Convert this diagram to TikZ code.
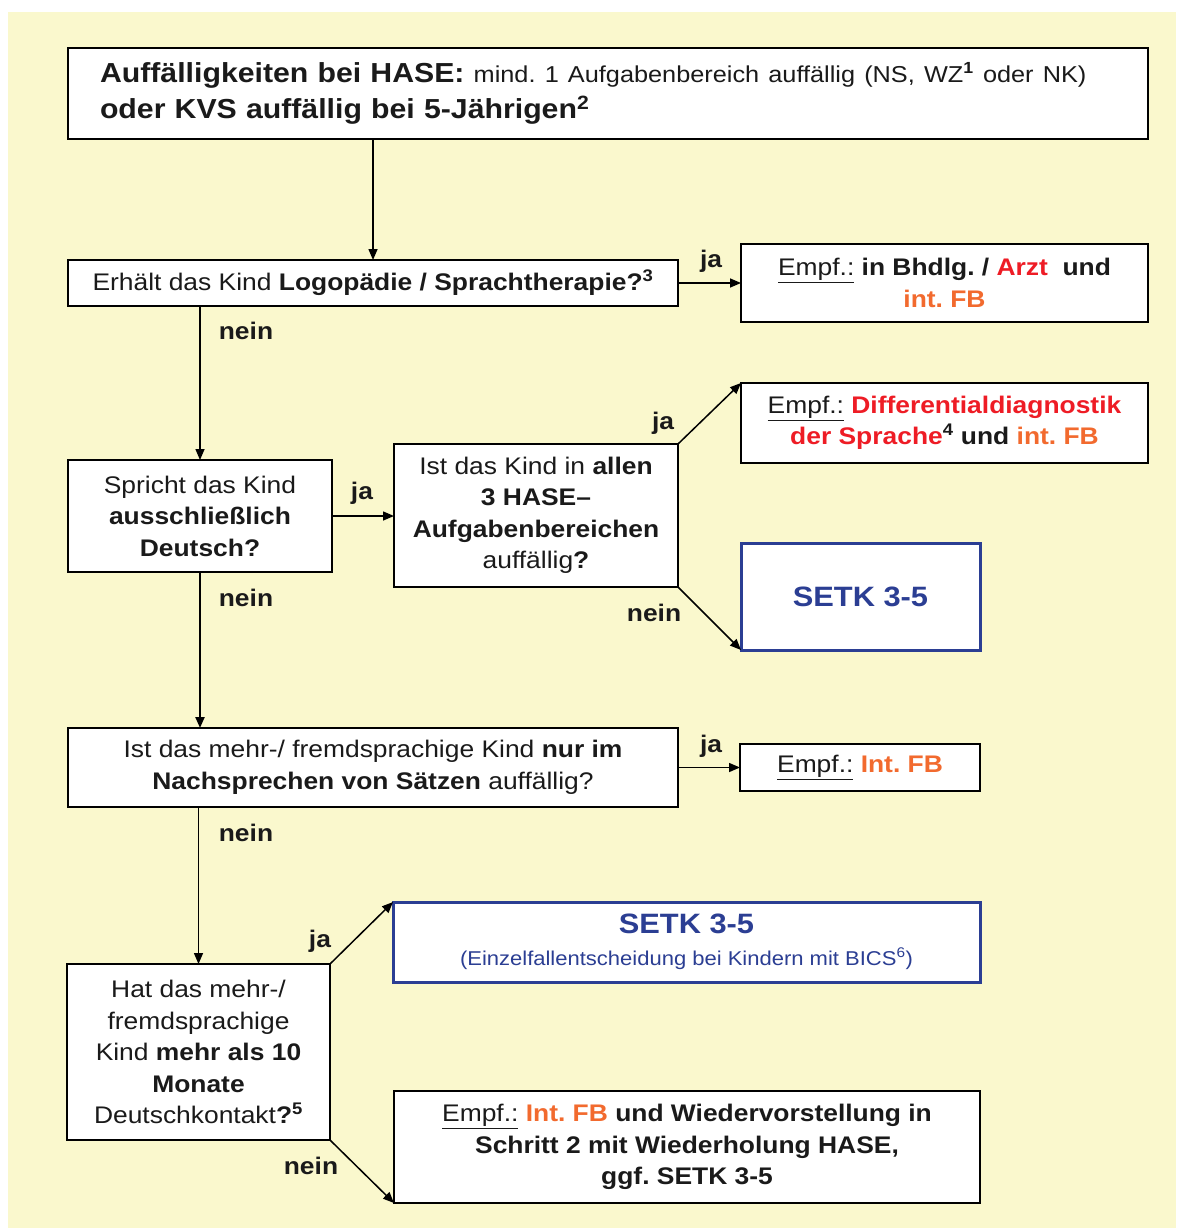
\documentclass[tikz,border=0pt]{standalone}
\usepackage{fontspec}
\setmainfont{Liberation Sans}[FakeStretch=1.1]
\usetikzlibrary{arrows.meta}
\frenchspacing
\definecolor{bg}{HTML}{FAF8CD}
\definecolor{tred}{HTML}{EE1C25}
\definecolor{torange}{HTML}{F26A2E}
\definecolor{tblue}{HTML}{2B3E93}
\definecolor{tdark}{HTML}{1A1A1A}
\newcommand\bx[7]{\node[#1, minimum width={#5-#3}, minimum height={#6-#4}] (#2) at ({(#3+#5)/2},{(#4+#6)/2}) {#7};}
\newcommand\emp{\underline{Empf.:}}
\begin{document}
\frenchspacing
\begin{tikzpicture}[x=1pt,y=-1pt,
  box/.style={draw=black, line width=1.5pt, fill=white, inner sep=0pt, outer sep=0pt, align=center, text=tdark, font=\fontsize{24}{31.5}\selectfont\frenchspacing},
  bluebox/.style={box, draw=tblue, line width=3pt, text=tblue},
  arr/.style={line width=1.5pt, -{Triangle[length=11pt,width=9pt]}},
  lbl/.style={font=\fontsize{24}{28}\selectfont\bfseries, text=tdark, inner sep=0pt}
]
\useasboundingbox (0,0) rectangle (1176,1228);
\fill[white] (0,0) rectangle (1176,1228);
\fill[bg] (8,12) rectangle (1176,1228);

\bx{box, align=left, text width=1016pt, inner xsep=32pt, font=\fontsize{27.5}{36}\selectfont\frenchspacing}{b1}{68}{48}{1148}{139}{\textbf{Auffälligkeiten bei HASE:} {\fontsize{23}{36}\selectfont mind. 1 Aufgabenbereich auffällig (NS, WZ\textsuperscript{\bfseries 1} oder NK)}\\ \textbf{oder KVS auffällig bei 5-Jährigen\textsuperscript{2}}}
\bx{box}{b2}{68}{260}{678}{306}{Erhält das Kind \textbf{Logopädie / Sprachtherapie?\textsuperscript{3}}}
\bx{box}{b3}{741}{244}{1148}{322}{\emp{} \textbf{in Bhdlg. / \textcolor{tred}{Arzt}\ \ und}\\ \textbf{\textcolor{torange}{int. FB}}}
\bx{box}{b4}{68}{460}{332}{572}{Spricht das Kind\\ \textbf{ausschließlich}\\ \textbf{Deutsch?}}
\bx{box}{b5}{394}{444}{678}{587}{Ist das Kind in \textbf{allen}\\ \textbf{3 HASE–}\\ \textbf{Aufgabenbereichen}\\ auffällig\textbf{?}}
\bx{box}{b6}{741}{383}{1148}{463}{\emp{} \textbf{\textcolor{tred}{Differentialdiagnostik}}\\ \textbf{\textcolor{tred}{der Sprache}\textsuperscript{4} und \textcolor{torange}{int. FB}}}
\bx{bluebox}{b7}{741}{543}{980}{650}{\fontsize{28}{34}\selectfont\bfseries SETK 3-5}
\bx{box}{b8}{68}{728}{678}{807}{Ist das mehr-/ fremdsprachige Kind \textbf{nur im}\\ \textbf{Nachsprechen von Sätzen} auffällig?}
\bx{box}{b9}{740}{744}{980}{791}{\emp{} \textbf{\textcolor{torange}{Int. FB}}}
\bx{box}{b10}{67}{964}{330}{1140}{Hat das mehr-/\\ fremdsprachige\\ Kind \textbf{mehr als 10}\\ \textbf{Monate}\\ Deutschkontakt\textbf{?\textsuperscript{5}}}
\bx{bluebox}{b11}{393}{902}{980}{982}{{\fontsize{28}{30}\selectfont\bfseries SETK 3-5}\\ {\fontsize{20}{24}\selectfont (Einzelfallentscheidung bei Kindern mit BICS\textsuperscript{6})}}
\bx{box}{b12}{394}{1091}{980}{1203}{\emp{} \textbf{\textcolor{torange}{Int. FB} und Wiedervorstellung in}\\ \textbf{Schritt 2 mit Wiederholung HASE,}\\ \textbf{ggf. SETK 3-5}}

\draw[arr] ([xshift=305pt]b1.south west) -- ([xshift=305pt]b2.north west);
\draw[arr] (b2.east) -- (b2.east -| b3.west);
\draw[arr] (b2.south -| b4.north) -- (b4.north);
\draw[arr] (b4.east) -- (b4.east -| b5.west);
\draw[arr] (b5.north east) -- (b6.north west);
\draw[arr] (b5.south east) -- (b7.south west);
\draw[arr, line width=2.2pt] (b4.south) -- (b4.south |- b8.north);
\draw[arr] (b8.east) -- (b8.east -| b9.west);
\draw[arr] (b10.north |- b8.south) -- (b10.north);
\draw[arr] (b10.north east) -- (b11.north west);
\draw[arr] (b10.south east) -- (b12.south west);

\node[lbl] (ja1) at (711,261) {ja};
\node[lbl] (nein1) at (246,331) {nein};
\node[lbl] (ja2) at (362,493) {ja};
\node[lbl] (ja3) at (663,423) {ja};
\node[lbl] (nein2) at (654,613) {nein};
\node[lbl] (nein3) at (246,598) {nein};
\node[lbl] (ja4) at (711,746) {ja};
\node[lbl] (nein4) at (246,833) {nein};
\node[lbl] (ja5) at (320,941) {ja};
\node[lbl] (nein5) at (311,1166) {nein};
\end{tikzpicture}
\end{document}
